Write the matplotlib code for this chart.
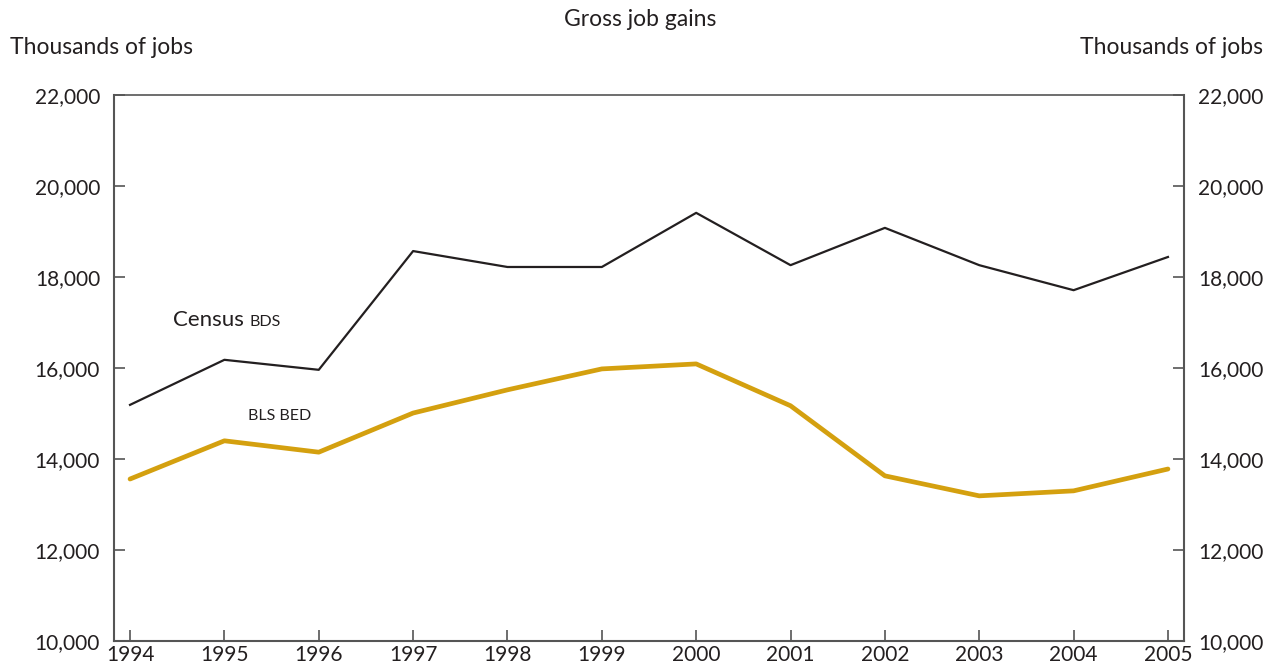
import matplotlib
matplotlib.use('Agg')
import matplotlib.pyplot as plt
from matplotlib.ticker import FuncFormatter

years = [1994, 1995, 1996, 1997, 1998, 1999, 2000, 2001, 2002, 2003, 2004, 2005]
census_bds = [15190, 16180, 15960, 18570, 18220, 18220, 19410, 18260, 19080, 18260, 17710, 18440]
bls_bed = [13560, 14400, 14150, 15010, 15520, 15980, 16090, 15170, 13630, 13190, 13300, 13780]
y_ticks = [10000, 12000, 14000, 16000, 18000, 20000, 22000]

plt.rcParams['font.family'] = ['Lato', 'DejaVu Sans']
text_color = '#231f20'
spine_color = '#555555'

fig = plt.figure(figsize=(12.76, 6.69), dpi=100)
ax = fig.add_axes([114 / 1276, 28 / 669, 1070 / 1276, 546 / 669])

ax.plot(years, census_bds, color='#231f20', lw=1.6)
ax.plot(years, bls_bed, color='#d4a00f', lw=3.4, solid_capstyle='round')

ax.set_xlim(1993.83, 2005.17)
ax.set_ylim(10000, 22000)
ax.set_xticks(years)
ax.set_yticks(y_ticks)
ax.yaxis.set_major_formatter(FuncFormatter(lambda v, p: '{:,.0f}'.format(v)))

ax.tick_params(axis='y', direction='in', length=8, width=1.2, color=spine_color,
               labelsize=15, labelcolor=text_color, left=True, right=True,
               labelleft=True, labelright=True, pad=10)
ax.tick_params(axis='x', direction='in', length=8, width=1.2, color=spine_color,
               labelsize=15, labelcolor=text_color, pad=3)
for side in ['left', 'right', 'bottom', 'top']:
    ax.spines[side].set_color(spine_color)
    ax.spines[side].set_linewidth(1.5)
ax.spines['top'].set_linewidth(1.2)

fig.text(640 / 1276, 1 - 20 / 669, 'Gross job gains', ha='center', va='center',
         fontsize=16.5, color=text_color)
fig.text(10 / 1276, 1 - 48 / 669, 'Thousands of jobs', ha='left', va='center',
         fontsize=16.5, color=text_color)
fig.text(1263 / 1276, 1 - 48 / 669, 'Thousands of jobs', ha='right', va='center',
         fontsize=16.5, color=text_color)

ax.text(1994.45, 17050, 'Census', fontsize=16, color=text_color, va='center')
ax.text(1995.27, 17000, 'BDS', fontsize=11.5, color=text_color, va='center')
ax.text(1995.25, 14950, 'BLS BED', fontsize=11.5, color=text_color, va='center')

fig.savefig('out.png', dpi=100)
